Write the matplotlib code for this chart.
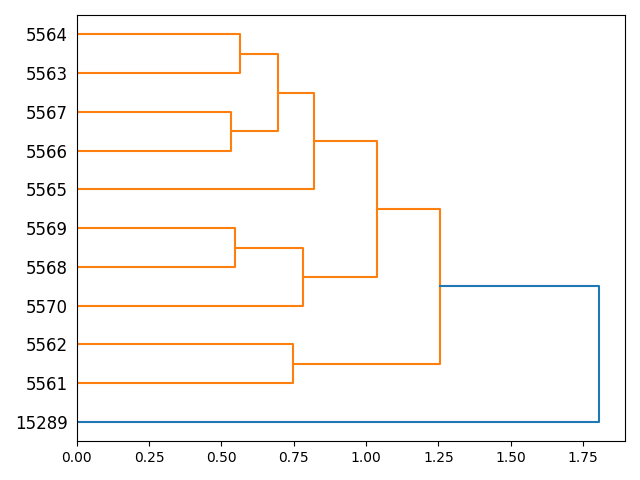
import matplotlib
matplotlib.use("Agg")
import matplotlib.pyplot as plt

# leaf labels, bottom to top
labels = ['15289', '5561', '5562', '5570', '5568', '5569',
          '5565', '5566', '5567', '5563', '5564']

# linkage: (child a, child b, height); new cluster ids start after the leaves
merge_a = [7, 9, 4, 1, 11, 3, 6, 16, 14, 0]
merge_b = [8, 10, 5, 2, 12, 13, 15, 17, 18, 19]
heights = [0.532, 0.564, 0.548, 0.746, 0.695, 0.782, 0.820, 1.037, 1.256, 1.805]

n = len(labels)
pos_y = {i: 5 + 10 * i for i in range(n)}
pos_x = {i: 0.0 for i in range(n)}
threshold = 0.7 * max(heights)

fig, ax = plt.subplots(figsize=(6.4, 4.8), dpi=100)

for k, (a, b, h) in enumerate(zip(merge_a, merge_b, heights)):
    cid = n + k
    col = 'C1' if h < threshold else 'C0'
    ax.plot([pos_x[a], h, h, pos_x[b]], [pos_y[a], pos_y[a], pos_y[b], pos_y[b]],
            color=col, lw=1.5)
    pos_y[cid] = (pos_y[a] + pos_y[b]) / 2
    pos_x[cid] = h

ax.set_ylim(0, 10 * n)
ax.set_xlim(0, max(heights) * 1.05)
ax.set_yticks([5 + 10 * i for i in range(n)])
ax.set_yticklabels(labels, fontsize=12)
ax.tick_params(axis='y', length=0, pad=6.5)

plt.tight_layout()
plt.savefig("out.png")
